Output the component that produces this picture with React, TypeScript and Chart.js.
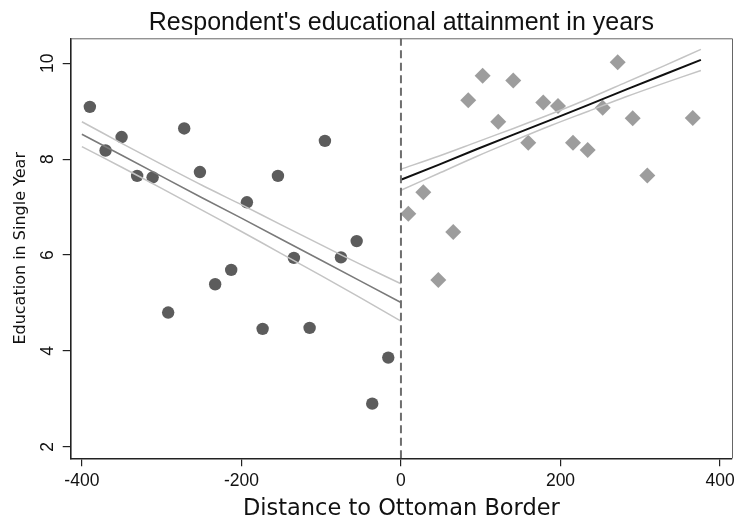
import { useEffect, useRef } from "react";
import { Chart, registerables } from "chart.js";

Chart.register(...registerables);

// West of the border (x < 0): binned means
const westX = [-390.0, -370.3, -350.2, -330.7, -311.3, -291.8, -271.7, -252.0, -232.9, -212.8, -193.1, -173.4, -154.2, -134.2, -114.5, -95.3, -75.2, -55.5, -36.0, -15.9];
const westY = [9.09, 8.18, 8.46, 7.65, 7.62, 4.80, 8.64, 7.73, 5.39, 5.69, 7.10, 4.46, 7.65, 5.94, 4.48, 8.38, 5.95, 6.29, 2.90, 3.86];

// East of the border (x > 0): binned means
const eastX = [9.2, 28.0, 46.8, 65.6, 84.4, 102.4, 122.0, 140.8, 159.6, 178.4, 196.9, 215.7, 234.1, 252.9, 271.7, 290.5, 308.8, 365.8];
const eastY = [6.86, 7.31, 5.48, 6.48, 9.23, 9.74, 8.78, 9.64, 8.34, 9.18, 9.11, 8.34, 8.19, 9.07, 10.02, 8.85, 7.66, 8.86];

// Linear fits and confidence bounds
const westFitX = [-400, -350, -300, -250, -200, -150, -100, -50, 0];
const westFit = [8.52, 8.08, 7.64, 7.2, 6.77, 6.33, 5.89, 5.45, 5.01];
const westUpper = [8.78, 8.33, 7.89, 7.46, 7.05, 6.63, 6.21, 5.8, 5.4];
const westLower = [8.26, 7.83, 7.39, 6.94, 6.49, 6.03, 5.57, 5.1, 4.62];

const eastFitX = [0, 47, 94, 141, 188, 235, 282, 329, 376];
const eastFit = [7.57, 7.88, 8.2, 8.51, 8.82, 9.13, 9.45, 9.76, 10.07];
const eastUpper = [7.79, 8.06, 8.35, 8.64, 8.94, 9.26, 9.6, 9.94, 10.29];
const eastLower = [7.35, 7.7, 8.05, 8.38, 8.7, 9.0, 9.3, 9.58, 9.85];

const xTicks = [-400, -200, 0, 200, 400];
const yTicks = [2, 4, 6, 8, 10];
const xRange = [-414, 415];
const yRange = [1.76, 10.52];
const cutoff = 0;

const zip = (xs: number[], ys: number[]) => xs.map((x, i) => ({ x, y: ys[i] }));

const boxPlugin = {
  id: "boxPlugin",
  afterDraw(chart: any) {
    const { ctx, chartArea } = chart;
    ctx.save();
    ctx.strokeStyle = "#666";
    ctx.lineWidth = 1;
    ctx.beginPath();
    ctx.moveTo(chartArea.left, chartArea.top + 0.5);
    ctx.lineTo(chartArea.right + 0.5, chartArea.top + 0.5);
    ctx.lineTo(chartArea.right + 0.5, chartArea.bottom);
    ctx.stroke();
    ctx.restore();
  },
};

const zeroPad = (s: any) => {
  s.paddingLeft = 0;
  s.paddingRight = 0;
  s.paddingTop = 0;
  s.paddingBottom = 0;
};

export default function App() {
  const ref = useRef<HTMLCanvasElement | null>(null);

  useEffect(() => {
    if (!ref.current) return;
    const lineDs = (data: any[], color: string, width: number, tension = 0.3) => ({
      type: "line" as const,
      data,
      borderColor: color,
      borderWidth: width,
      pointRadius: 0,
      fill: false,
      tension,
      showLine: true,
    });
    const chart = new Chart(ref.current, {
      type: "scatter",
      data: {
        datasets: [
          {
            ...lineDs(
              [
                { x: cutoff, y: yRange[0] },
                { x: cutoff, y: yRange[1] },
              ],
              "#6e6e6e",
              2,
              0
            ),
            borderDash: [8, 4.5],
          },
          lineDs(zip(eastFitX, eastFit), "#111", 2, 0),
          lineDs(zip(eastFitX, eastUpper), "#c4c4c4", 1.5),
          lineDs(zip(eastFitX, eastLower), "#c4c4c4", 1.5),
          lineDs(zip(westFitX, westFit), "#7a7a7a", 1.6, 0),
          lineDs(zip(westFitX, westUpper), "#c4c4c4", 1.5),
          lineDs(zip(westFitX, westLower), "#c4c4c4", 1.5),
          {
            data: zip(westX, westY),
            pointStyle: "circle",
            pointRadius: 6.2,
            backgroundColor: "#5c5c5c",
            borderWidth: 0,
          },
          {
            data: zip(eastX, eastY),
            pointStyle: "rectRot",
            pointRadius: 8,
            backgroundColor: "#9d9d9d",
            borderWidth: 0,
          },
        ] as any,
      },
      options: {
        responsive: false,
        animation: false,
        layout: { padding: { left: 0, right: 0, top: 0, bottom: 0 } },
        plugins: {
          legend: { display: false },
          tooltip: { enabled: false },
          title: {
            display: true,
            text: "Respondent's educational attainment in years",
            color: "#111",
            font: { family: "Liberation Sans", size: 25, weight: "normal", lineHeight: 1 },
            padding: { top: 10.2, bottom: 3.1 },
            fullSize: false,
          } as any,
        },
        scales: {
          x: {
            type: "linear",
            min: xRange[0],
            max: xRange[1],
            afterBuildTicks: (s: any) => {
              s.ticks = xTicks.map((v) => ({ value: v }));
            },
            afterFit: (s: any) => {
              s.height = 67.7;
              zeroPad(s);
            },
            ticks: {
              includeBounds: false,
              color: "#111",
              font: { family: "Liberation Sans", size: 17.5 },
              padding: 4.5,
              maxRotation: 0,
              minRotation: 0,
            },
            grid: {
              drawOnChartArea: false,
              drawTicks: true,
              tickLength: 8,
              color: "#222",
              lineWidth: 1.2,
            },
            border: { display: true, color: "#222", width: 1.6 },
            title: {
              display: true,
              text: "Distance to Ottoman Border",
              color: "#111",
              font: { family: "DejaVu Sans", size: 22.5 },
              padding: { top: 0, bottom: 3 },
            },
          },
          y: {
            type: "linear",
            min: yRange[0],
            max: yRange[1],
            afterBuildTicks: (s: any) => {
              s.ticks = yTicks.map((v) => ({ value: v }));
            },
            afterFit: (s: any) => {
              s.width = 70.7;
              zeroPad(s);
            },
            ticks: {
              includeBounds: false,
              color: "#111",
              font: { family: "Liberation Sans", size: 17.5 },
              padding: 4.6,
              minRotation: 90,
              maxRotation: 90,
              crossAlign: "center",
            },
            grid: {
              drawOnChartArea: false,
              drawTicks: true,
              tickLength: 8,
              color: "#222",
              lineWidth: 1.2,
            },
            border: { display: true, color: "#222", width: 1.6 },
            title: {
              display: true,
              text: "Education in Single Year",
              color: "#111",
              font: { family: "DejaVu Sans", size: 16 },
              padding: { top: 11, bottom: 0 },
            },
          },
        },
      },
      plugins: [boxPlugin],
    });
    return () => chart.destroy();
  }, []);

  return (
    <div
      style={{
        position: "absolute",
        left: 0,
        top: 0,
        width: 736,
        height: 526,
        overflow: "hidden",
        background: "#fff",
      }}
    >
      <canvas ref={ref} width={740} height={526} style={{ display: "block" }} />
    </div>
  );
}
